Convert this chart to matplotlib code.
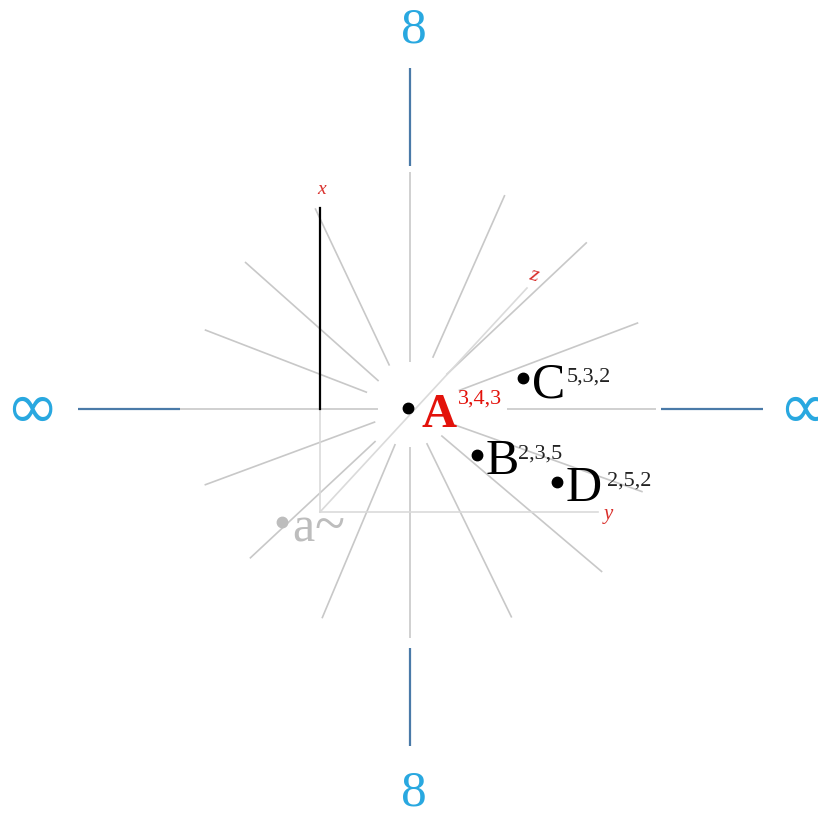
import numpy as np
import matplotlib
matplotlib.use("Agg")
import matplotlib.pyplot as plt

# radial gray rays: angle (deg, ccw from +x), inner and outer radius (px units)
ray_angles = [0, 20.7, 43.3, 66.1, 90, 115.3, 138.3, 158.9,
              180, 200.3, 223.0, 247.2, 270, 296.0, 319.7, 340.4]
ray_inner = [97, 52, 50, 56, 47, 48, 42, 46, 32, 37, 47, 38, 38, 38, 41, 45]
ray_outer = [246, 244, 243, 234, 237, 222, 221, 220,
             230, 219, 219, 227, 229, 232, 252, 247]

# blue arms (direction angle, start radius, end radius)
arm_angles = [90, 180, 0, 270]
arm_start = [243, 230, 251, 239]
arm_end = [341, 332, 353, 337]

# labels at the ends of the arms
end_labels = ["8", "\u221e", "\u221e", "8"]
end_pos_x = [4, -378, 395, 4]
end_pos_y = [379, -1, -1, -384]

# little 3D axis frame
origin = (-90, -103)
x_axis_top = (-90, 201)
y_axis_end = (188, -103)
z_axis_end = (117, 121)

# points
point_names = ["A", "B", "C", "D"]
point_coords = ["3,4,3", "2,3,5", "5,3,2", "2,5,2"]
point_x = [-2, 67, 113, 147]
point_y = [1, -46, 31, -73]

ghost_x, ghost_y = -128, -113

blue = "#29a8e0"
arm_blue = "#4a7aa8"
ray_gray = "#c8c8c8"
frame_gray = "#dadada"
red = "#e3120b"
axis_red = "#d9302c"

fig = plt.figure(figsize=(8.18, 8.14), dpi=100)
ax = fig.add_axes([0, 0, 1, 1])
ax.set_xlim(-410, 408)
ax.set_ylim(-405, 409)
ax.axis("off")

# rays
for ang, r0, r1 in zip(ray_angles, ray_inner, ray_outer):
    t = np.deg2rad(ang)
    ax.plot([r0 * np.cos(t), r1 * np.cos(t)], [r0 * np.sin(t), r1 * np.sin(t)],
            color=ray_gray, lw=1.2, solid_capstyle="butt", zorder=1)

# blue arms
for ang, r0, r1 in zip(arm_angles, arm_start, arm_end):
    t = np.deg2rad(ang)
    ax.plot([r0 * np.cos(t), r1 * np.cos(t)], [r0 * np.sin(t), r1 * np.sin(t)],
            color=arm_blue, lw=1.6, solid_capstyle="butt", zorder=1)

for lab, ex, ey in zip(end_labels, end_pos_x, end_pos_y):
    if lab == "8":
        ax.text(ex, ey, lab, color=blue, fontsize=37, family="Liberation Serif",
                ha="center", va="center")
    else:
        ax.text(ex, ey, lab, color=blue, fontsize=46, family="DejaVu Sans",
                ha="center", va="center")

# frame
ax.plot([origin[0], origin[0]], [origin[1], 0], color=frame_gray, lw=1.2, zorder=1)
ax.plot([origin[0], x_axis_top[0]], [0, x_axis_top[1]], color="black", lw=1.6, zorder=2)
ax.plot([origin[0], y_axis_end[0]], [origin[1], y_axis_end[1]], color=frame_gray, lw=1.2, zorder=1)
ax.plot([origin[0], z_axis_end[0]], [origin[1], z_axis_end[1]], color=frame_gray, lw=1.2, zorder=1)

ax.text(x_axis_top[0] + 2, x_axis_top[1] + 18, "x", color=axis_red, fontsize=14,
        family="Liberation Serif", style="italic", ha="center", va="center")
ax.text(y_axis_end[0] + 10, y_axis_end[1] - 2, "y", color=axis_red, fontsize=15,
        family="Liberation Serif", style="italic", ha="center", va="center")
ax.text(z_axis_end[0] + 7, z_axis_end[1] + 12, "z", color=axis_red, fontsize=16,
        family="Liberation Serif", style="italic", ha="center", va="center",
        rotation=-15)

# points and labels
for name, coords, px, py in zip(point_names, point_coords, point_x, point_y):
    ax.plot(px, py, "o", color="black", ms=7.5, zorder=3)
    if name == "A":
        ax.text(px + 14, py - 19, name, color=red, fontsize=35, fontweight="bold",
                family="Liberation Serif", ha="left", va="baseline", zorder=3)
        ax.text(px + 50, py + 4, coords, color=red, fontsize=16,
                family="Liberation Serif", ha="left", va="baseline", zorder=3)
    else:
        ax.text(px + 9, py - 19, name, color="black", fontsize=36,
                family="Liberation Serif", ha="left", va="baseline", zorder=3)
        w = {"B": 32, "C": 35, "D": 41}[name]
        ax.text(px + 9 + w, py - 4, coords, color="#222222", fontsize=16,
                family="Liberation Serif", ha="left", va="baseline", zorder=3)

ax.plot(ghost_x, ghost_y, "o", color="#bdbdbd", ms=7.5, zorder=3)
ax.text(ghost_x + 10, ghost_y - 20, "a", color="#bdbdbd", fontsize=36,
        family="Liberation Serif", ha="left", va="baseline", zorder=3)
ax.text(ghost_x + 32, ghost_y - 20, "~", color="#bdbdbd", fontsize=40,
        family="Liberation Serif", ha="left", va="baseline", zorder=3)

fig.savefig("out.png", dpi=100, facecolor="white")
